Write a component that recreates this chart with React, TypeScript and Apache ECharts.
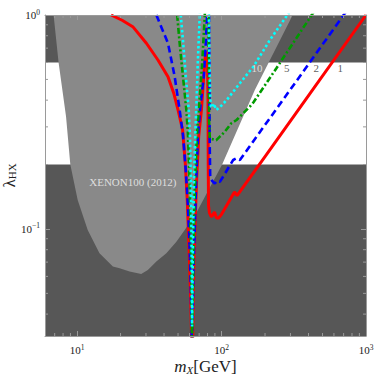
import React, { useEffect, useRef } from 'react';
import * as echarts from 'echarts';

const X_MIN = 6;
const X_MAX = 1000;
const Y_MIN = 0.0316;
const Y_MAX = 1;
const bandLow = 0.2;
const bandHigh = 0.6;

// XENON100 (2012) excluded region boundary
const xenonX = [6.88, 7.45, 8.39, 8.98, 10.1, 11.85, 14.3, 17.7, 19.7, 23.1, 27.8, 30.9, 35.4, 41.5, 48.7, 55.6, 67, 101, 170, 311];
const xenonY = [1, 0.6, 0.335, 0.2, 0.1366, 0.0989, 0.077, 0.0667, 0.0655, 0.0632, 0.0616, 0.0643, 0.0704, 0.077, 0.0872, 0.0989, 0.119, 0.2, 0.446, 1];

// curve "1" (red, solid)
const redX = [17.2, 20.5, 24.3, 30.2, 36.3, 42.6, 46.7, 50, 53.8, 56.2, 57.9, 59.8, 61.2, 62, 62.4, 62.8, 63.2, 63.8, 64.6, 66, 67.5, 69.5, 72.6, 75.3, 77, 77.8, 78.8, 80, 80.6, 80.9, 81.3, 82.5, 85, 87.5, 89.5, 92, 95, 100, 108, 116, 123, 128, 200, 433, 1000];
const redY = [1, 0.945, 0.882, 0.738, 0.616, 0.515, 0.431, 0.36, 0.29, 0.2, 0.137, 0.0756, 0.0466, 0.0316, 0.025, 0.025, 0.0316, 0.05, 0.0756, 0.12, 0.18, 0.27, 0.36, 0.515, 0.63, 0.674, 0.66, 0.58, 0.4, 0.2, 0.128, 0.119, 0.114, 0.117, 0.12, 0.113, 0.112, 0.117, 0.128, 0.139, 0.149, 0.143, 0.218, 0.453, 1];

// curve "2" (blue, dashed)
const blueX = [35.4, 42.6, 47.4, 51.3, 54.1, 56.5, 58.5, 60, 61.2, 62, 62.4, 62.7, 63.2, 64, 65.3, 66.8, 68.8, 71.5, 75.3, 77.5, 79.4, 80.2, 81.8, 82.3, 82.8, 83.5, 86, 89.8, 93, 97.3, 105, 113, 120.4, 127, 134, 298, 700, 760];
const blueY = [1, 0.738, 0.515, 0.36, 0.275, 0.19, 0.13, 0.085, 0.055, 0.035, 0.028, 0.028, 0.04, 0.065, 0.1, 0.17, 0.275, 0.38, 0.515, 0.7, 1, 1.2, 1.2, 0.6, 0.25, 0.175, 0.168, 0.163, 0.168, 0.166, 0.18, 0.196, 0.21, 0.214, 0.21, 0.446, 1, 1.08];

// curve "5" (green, dash-dot)
const greenX = [49.3, 51.3, 54.1, 57.1, 58.6, 60, 61, 61.8, 62.3, 62.5, 62.8, 63.2, 64, 65.3, 67.6, 70.5, 73.5, 76.6, 77.5, 81, 81.5, 82, 83, 88, 92, 97.3, 105.5, 117, 127, 141, 157, 166, 241, 421, 450];
const greenY = [1, 0.738, 0.515, 0.36, 0.275, 0.17, 0.1, 0.055, 0.035, 0.028, 0.028, 0.045, 0.08, 0.15, 0.275, 0.4, 0.6, 1, 1.2, 1.2, 0.6, 0.32, 0.265, 0.262, 0.26, 0.27, 0.285, 0.312, 0.323, 0.347, 0.373, 0.39, 0.567, 1, 1.07];

// curve "10" (cyan, dotted)
const cyanX = [52.2, 54.3, 56.6, 59.3, 60.4, 61.3, 61.9, 62.3, 62.5, 62.7, 63, 63.6, 64.5, 66, 67.2, 68.5, 70.7, 71.5, 81.5, 82.5, 83.5, 84.3, 86.5, 88.5, 92, 97, 108.4, 134, 166, 216, 285.5, 300];
const cyanY = [1, 0.738, 0.515, 0.36, 0.275, 0.17, 0.1, 0.06, 0.035, 0.035, 0.06, 0.1, 0.17, 0.29, 0.4, 0.6, 1, 1.2, 1.2, 0.6, 0.42, 0.373, 0.37, 0.385, 0.36, 0.37, 0.4, 0.48, 0.573, 0.764, 1, 1.05];

const curveLabels = ['10', '5', '2', '1'];
const curveLabelX = [176, 283, 452, 663];
const curveLabelY = [0.565, 0.565, 0.565, 0.565];

const regionLabel = 'XENON100 (2012)';
const regionLabelX = 24.3;
const regionLabelY = 0.166;

const xMinorTicks = [7, 8, 9, 20, 30, 40, 50, 60, 70, 80, 90, 200, 300, 400, 500, 600, 700, 800, 900];
const yMinorTicks = [0.04, 0.05, 0.06, 0.07, 0.08, 0.09, 0.2, 0.3, 0.4, 0.5, 0.6, 0.7, 0.8, 0.9];

const SERIF = "'Liberation Serif', 'Times New Roman', serif";
const DARK = '#575757';
const LIGHT = '#898989';
const TICK = '#9a9a9a';

const zip = (xs: number[], ys: number[]) => xs.map((x, i) => [x, ys[i]]);

const powLabel = (v: number) => {
  const e = Math.log10(v);
  const r = Math.round(e);
  if (Math.abs(e - r) > 1e-6) return '';
  return `{b|10}{e|${r < 0 ? '\u2212' + -r : r}}`;
};

const labelRich = {
  b: { fontSize: 11, fontFamily: SERIF, color: '#222', lineHeight: 14 },
  e: { fontSize: 7.5, fontFamily: SERIF, color: '#222', verticalAlign: 'top', lineHeight: 9 },
};

export default function App() {
  const ref = useRef<HTMLDivElement>(null);
  useEffect(() => {
    if (!ref.current) return;
    const chart = echarts.init(ref.current, undefined, { renderer: 'svg' });

    const axisCommon = {
      type: 'log' as const,
      logBase: 10,
      splitLine: { show: false },
      axisLine: { show: true, lineStyle: { color: TICK, width: 1 } },
      axisTick: { show: true, inside: true, length: 5, lineStyle: { color: TICK } },
      z: 10,
    };

    const lineSeries = (xs: number[], ys: number[], color: string, width: number, type: any) => ({
      type: 'line',
      data: zip(xs, ys),
      showSymbol: false,
      symbol: 'none',
      clip: true,
      z: 5,
      lineStyle: { color, width, type, cap: 'butt' },
      silent: true,
    });

    const option: any = {
      animation: false,
      grid: {
        left: 45,
        right: 8,
        top: 15,
        bottom: 41,
        show: true,
        backgroundColor: DARK,
        borderWidth: 0,
        containLabel: false,
        outerBoundsMode: 'none',
      },
      xAxis: [
        {
          ...axisCommon,
          position: 'bottom',
          min: X_MIN,
          max: X_MAX,
          axisLabel: { formatter: powLabel, rich: labelRich, margin: 7 },
          name: '{i|m}{s|X}{n|[GeV]}',
          nameLocation: 'middle',
          nameGap: 21,
          nameMoveOverlap: false,
          nameTextStyle: {
            rich: {
              i: { fontSize: 17, fontFamily: SERIF, fontStyle: 'italic', color: '#222', lineHeight: 18 },
              s: { fontSize: 11, fontFamily: SERIF, fontStyle: 'italic', color: '#222', verticalAlign: 'bottom', lineHeight: 12 },
              n: { fontSize: 17, fontFamily: SERIF, color: '#222', lineHeight: 18 },
            },
          },
        },
        {
          ...axisCommon,
          position: 'top',
          min: X_MIN,
          max: X_MAX,
          axisLabel: { show: false },
        },
      ],
      yAxis: [
        {
          ...axisCommon,
          position: 'left',
          min: Y_MIN,
          max: Y_MAX,
          axisLabel: { formatter: powLabel, rich: labelRich, margin: 5 },
          name: '{l|\u03bb}{s|HX}',
          nameLocation: 'middle',
          nameGap: 28,
          nameMoveOverlap: false,
          nameTextStyle: {
            rich: {
              l: { fontSize: 17, fontFamily: SERIF, color: '#222', lineHeight: 15 },
              s: { fontSize: 11, fontFamily: SERIF, color: '#222', verticalAlign: 'bottom', lineHeight: 11 },
            },
          },
        },
        {
          ...axisCommon,
          position: 'right',
          min: Y_MIN,
          max: Y_MAX,
          axisLabel: { show: false },
        },
      ],
      series: [
        {
          type: 'custom',
          z: 1,
          silent: true,
          data: [[X_MIN, bandLow]],
          renderItem: (_p: any, api: any) => {
            const a = api.coord([X_MIN, bandHigh]);
            const b = api.coord([X_MAX, bandLow]);
            return { type: 'rect', shape: { x: a[0], y: a[1], width: b[0] - a[0], height: b[1] - a[1] }, style: { fill: '#ffffff' } };
          },
        },
        {
          type: 'custom',
          z: 2,
          silent: true,
          clip: true,
          data: [[xenonX[0], xenonY[0]]],
          renderItem: (_p: any, api: any) => {
            const pts = xenonX.map((x, i) => api.coord([x, xenonY[i]]));
            return { type: 'polygon', shape: { points: pts }, style: { fill: LIGHT } };
          },
        },
        lineSeries(redX, redY, '#ff0000', 3, 'solid'),
        lineSeries(blueX, blueY, '#0000ff', 2.6, [7, 4]),
        lineSeries(greenX, greenY, '#009a00', 2.6, [6, 2.5, 2, 2.5]),
        lineSeries(cyanX, cyanY, '#00ffff', 2.6, [2.5, 2.5]),
        {
          type: 'scatter',
          z: 6,
          silent: true,
          symbolSize: 0,
          data: curveLabelX.map((x, i) => ({
            value: [x, curveLabelY[i]],
            label: { color: i === 0 ? '#f2f2f2' : '#333333' },
          })),
          label: {
            show: true,
            position: 'inside',
            fontSize: 11,
            fontFamily: SERIF,
            formatter: (p: any) => curveLabels[p.dataIndex],
          },
        },
        {
          type: 'scatter',
          z: 6,
          silent: true,
          symbolSize: 0,
          data: [[regionLabelX, regionLabelY]],
          label: {
            show: true,
            position: 'inside',
            fontSize: 11,
            fontFamily: SERIF,
            color: '#f4f4f4',
            formatter: () => regionLabel,
          },
        },
        {
          type: 'custom',
          z: 11,
          silent: true,
          data: xMinorTicks.map((v) => [v, Y_MIN]),
          renderItem: (_p: any, api: any) => {
            const v = api.value(0);
            const b = api.coord([v, Y_MIN]);
            const t = api.coord([v, Y_MAX]);
            const st = { stroke: TICK, lineWidth: 1 };
            return {
              type: 'group',
              children: [
                { type: 'line', shape: { x1: b[0], y1: b[1], x2: b[0], y2: b[1] - 3 }, style: st },
                { type: 'line', shape: { x1: t[0], y1: t[1], x2: t[0], y2: t[1] + 3 }, style: st },
              ],
            };
          },
        },
        {
          type: 'custom',
          z: 11,
          silent: true,
          data: yMinorTicks.map((v) => [X_MIN, v]),
          renderItem: (_p: any, api: any) => {
            const v = api.value(1);
            const l = api.coord([X_MIN, v]);
            const r = api.coord([X_MAX, v]);
            const st = { stroke: TICK, lineWidth: 1 };
            return {
              type: 'group',
              children: [
                { type: 'line', shape: { x1: l[0], y1: l[1], x2: l[0] + 3, y2: l[1] }, style: st },
                { type: 'line', shape: { x1: r[0], y1: r[1], x2: r[0] - 3, y2: r[1] }, style: st },
              ],
            };
          },
        },
      ],
    };

    chart.setOption(option);
    return () => chart.dispose();
  }, []);

  return (
    <div
      ref={ref}
      style={{ position: 'fixed', left: 0, top: 0, width: 374, height: 377, background: '#ffffff' }}
    />
  );
}
